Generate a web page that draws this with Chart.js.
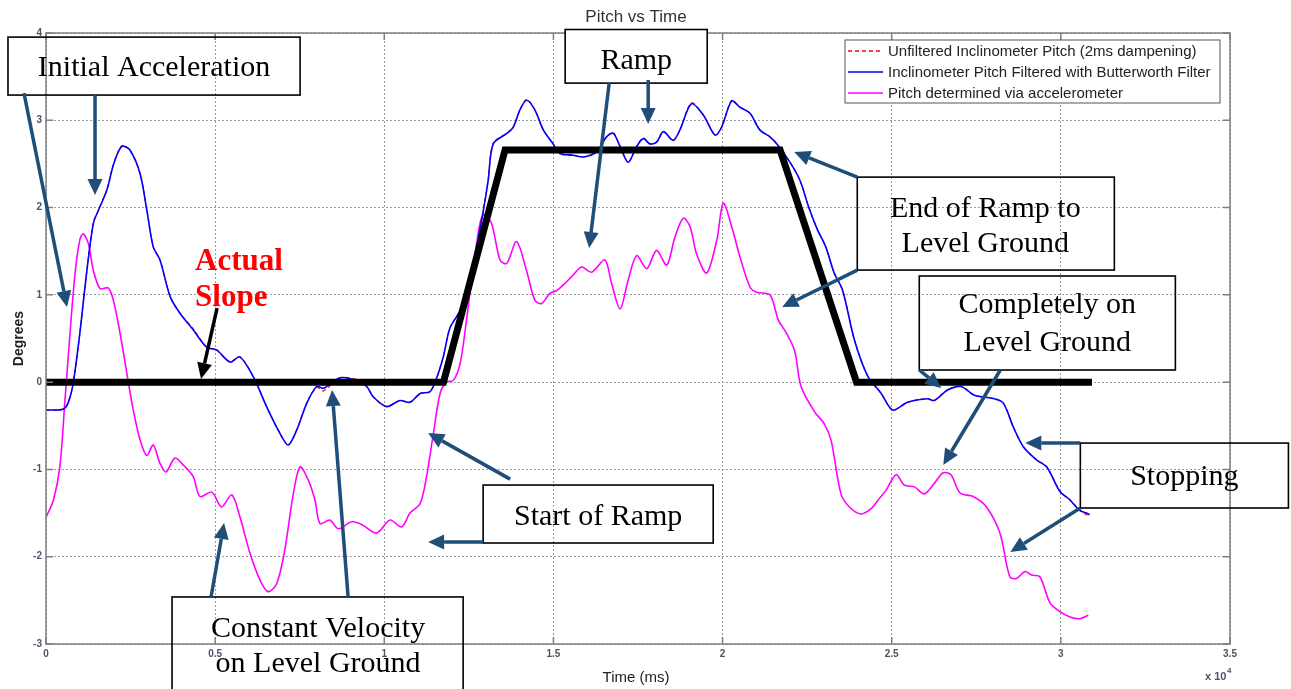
<!DOCTYPE html>
<html>
<head>
<meta charset="utf-8">
<script src="https://cdn.jsdelivr.net/npm/chart.js@4.4.1/dist/chart.umd.min.js"></script>
<style>
  body { margin: 0; background: #fff; }
  #wrap { width: 1291px; height: 689px; }
</style>
</head>
<body>
<div id="wrap"><canvas id="grafico_pitch" width="1291" height="689"></canvas></div>
<script>
// time in ms, pitch in degrees
const seriesNames = [
  'Unfiltered Inclinometer Pitch (2ms dampening)',
  'Inclinometer Pitch Filtered with Butterworth Filter',
  'Pitch determined via accelerometer'
];

const filteredTime = [0, 500, 650, 800, 1000, 1200, 1400, 1550, 1800, 2000, 2240, 2480, 2780, 2980, 3170, 3370, 3670, 3960, 4350, 4750,
  5040, 5440, 5730, 6130, 6520, 6920, 7160, 7410, 7710, 8000, 8200, 8690, 9180, 9480, 9680, 10070, 10460, 10760, 11060, 11350,
  11550, 11750, 11940, 12240, 12530, 12730, 12930, 13070, 13220, 13620, 13810, 14010, 14210, 14450, 14700, 14990, 15190, 15580, 15900, 16280,
  16570, 16770, 16970, 17210, 17460, 17660, 17850, 18050, 18250, 18540, 18740, 19080, 19430, 19780, 19970, 20270, 20510, 20810, 21100, 21400,
  21600, 21990, 22290, 22550, 22800, 23050, 23300, 23550, 23900, 24290, 24690, 25030, 25470, 26060, 26260, 26650, 27050, 27440, 28030, 28300,
  28590, 28890, 29280, 29580, 29970, 30270, 30560, 30760, 30850];
const filteredDeg = [-0.32, -0.31, -0.24, -0.02, 0.56, 1.25, 1.82, 1.97, 2.20, 2.50, 2.70, 2.66, 2.39, 1.97, 1.55, 1.40, 0.98, 0.79, 0.60, 0.40,
  0.37, 0.23, 0.29, 0.06, -0.28, -0.59, -0.72, -0.55, -0.24, -0.05, -0.07, 0.05, 0.02, -0.05, -0.17, -0.28, -0.21, -0.23, -0.13, -0.11,
  0.05, 0.30, 0.62, 0.82, 1.17, 1.55, 1.97, 2.31, 2.73, 2.85, 2.92, 3.12, 3.23, 3.12, 2.89, 2.73, 2.62, 2.60, 2.58, 2.64,
  2.81, 2.85, 2.70, 2.52, 2.70, 2.79, 2.73, 2.75, 2.87, 2.77, 2.89, 3.19, 3.06, 2.83, 2.92, 3.22, 3.15, 3.08, 2.89, 2.81,
  2.73, 2.52, 2.31, 2.00, 1.75, 1.55, 1.25, 1.05, 0.48, 0.07, -0.13, -0.32, -0.23, -0.19, -0.21, -0.09, -0.05, -0.15, -0.19, -0.24,
  -0.51, -0.74, -0.89, -0.97, -1.25, -1.35, -1.47, -1.50, -1.52];

const unfilteredTime = filteredTime;
const unfilteredDeg = [-0.32, -0.31, -0.24, -0.02, 0.56, 1.25, 1.83, 1.97, 2.21, 2.50, 2.71, 2.66, 2.39, 1.98, 1.55, 1.40, 0.98, 0.79, 0.61, 0.40,
  0.37, 0.23, 0.29, 0.06, -0.28, -0.59, -0.72, -0.55, -0.24, -0.06, -0.10, 0.05, 0.03, -0.05, -0.17, -0.28, -0.21, -0.23, -0.13, -0.11,
  0.05, 0.30, 0.62, 0.82, 1.17, 1.55, 1.97, 2.31, 2.74, 2.85, 2.92, 3.12, 3.24, 3.12, 2.89, 2.73, 2.62, 2.60, 2.58, 2.64,
  2.81, 2.86, 2.70, 2.52, 2.70, 2.80, 2.73, 2.75, 2.87, 2.77, 2.89, 3.20, 3.06, 2.83, 2.92, 3.23, 3.15, 3.08, 2.89, 2.81,
  2.73, 2.52, 2.31, 2.00, 1.75, 1.55, 1.25, 1.05, 0.48, 0.07, -0.13, -0.32, -0.23, -0.19, -0.21, -0.09, -0.05, -0.15, -0.19, -0.24,
  -0.51, -0.74, -0.89, -0.97, -1.25, -1.35, -1.47, -1.52, -1.54];

const accelTime = [0, 220, 410, 560, 710, 860, 1000, 1100, 1250, 1400, 1600, 1840, 1990, 2190, 2390, 2580, 2780, 2980, 3170, 3370,
  3550, 3810, 4060, 4350, 4550, 4900, 5190, 5490, 5730, 6030, 6330, 6570, 6820, 7060, 7310, 7510, 7750, 7950, 8100, 8390,
  8640, 9040, 9330, 9770, 10170, 10510, 10760, 11060, 11250, 11450, 11650, 11840, 12040, 12240, 12430, 12630, 12830, 12950, 13170, 13420,
  13620, 13910, 14210, 14450, 14650, 14900, 15100, 15390, 15590, 15830, 16130, 16520, 16720, 16970, 17210, 17460, 17760, 18050, 18350, 18590,
  18840, 19040, 19230, 19530, 19830, 20020, 20270, 20510, 20810, 21010, 21400, 21650, 21890, 22130, 22320, 22720, 23010, 23210, 23500, 23750,
  24090, 24390, 24640, 24830, 25130, 25370, 25670, 25960, 26260, 26510, 26750, 27020, 27410, 27800, 28200, 28490, 28690, 28940, 29140, 29380,
  29680, 29970, 30270, 30560, 30810];
const accelDeg = [-1.55, -1.35, -0.97, -0.21, 0.56, 1.25, 1.63, 1.70, 1.59, 1.28, 1.07, 1.08, 0.94, 0.56, 0.10, -0.32, -0.66, -0.84, -0.72, -0.93,
  -1.03, -0.87, -0.95, -1.08, -1.31, -1.26, -1.43, -1.29, -1.54, -1.96, -2.27, -2.40, -2.31, -1.92, -1.28, -0.97, -1.12, -1.35, -1.62, -1.58,
  -1.68, -1.60, -1.63, -1.73, -1.58, -1.66, -1.50, -1.39, -1.08, -0.59, -0.13, 0.00, 0.02, 0.21, 0.71, 1.32, 1.82, 1.92, 1.82, 1.40,
  1.36, 1.61, 1.27, 0.94, 0.90, 1.02, 1.05, 1.15, 1.23, 1.32, 1.26, 1.40, 1.13, 0.84, 1.17, 1.45, 1.30, 1.51, 1.34, 1.66,
  1.88, 1.78, 1.47, 1.25, 1.63, 2.05, 1.78, 1.44, 1.09, 1.03, 1.00, 0.71, 0.56, 0.36, -0.05, -0.34, -0.48, -0.67, -1.28, -1.43,
  -1.51, -1.45, -1.33, -1.24, -1.06, -1.18, -1.20, -1.28, -1.16, -1.04, -1.06, -1.27, -1.31, -1.43, -1.73, -2.23, -2.25, -2.17, -2.21, -2.23,
  -2.53, -2.63, -2.69, -2.71, -2.67];

// hand-drawn "actual slope" profile
const slopeTime = [0, 11750, 13570, 21700, 23960, 30920];
const slopeDeg = [0, 0, 2.66, 2.66, 0, 0];

// callouts: box corners and text in (ms, degrees)
const notes = [
  { box: [-1124, 3.953, 7511, 3.289], lines: [['Initial Acceleration', 3194, 3.507]] },
  { box: [15347, 4.040, 19546, 3.426], lines: [['Ramp', 17447, 3.587]], fill: true },
  { box: [23982, 2.349, 31581, 1.284], lines: [['End of Ramp to', 27766, 1.891], ['Level Ground', 27766, 1.490]] },
  { box: [25815, 1.216, 33385, 0.139], lines: [['Completely on', 29600, 0.792], ['Level Ground', 29600, 0.357]] },
  { box: [30576, -0.698, 36727, -1.442], lines: [['Stopping', 33651, -1.179]] },
  { box: [12922, -1.179, 19723, -1.843], lines: [['Start of Ramp', 16323, -1.637]] },
  { box: [3726, -2.461, 12331, -3.644], lines: [['Constant Velocity', 8043, -2.920], ['on Level Ground', 8043, -3.321]] }
];
const arrows = [
  [-651, 3.312, 621, 0.861], [1449, 3.289, 1449, 2.144],
  [16648, 3.426, 16057, 1.536], [17801, 3.461, 17801, 2.957],
  [23982, 2.349, 22118, 2.636], [23982, 1.284, 21764, 0.860],
  [25815, 0.139, 26465, -0.068], [28210, 0.139, 26524, -0.949],
  [30576, -0.698, 28950, -0.698], [30576, -1.442, 28506, -1.946],
  [13720, -1.111, 11296, -0.583], [12922, -1.832, 11296, -1.832],
  [4879, -2.461, 5264, -1.614], [8930, -2.461, 8457, -0.091]
];
const slopeArrow = [5057, 0.849, 4583, 0.036];

const blue = '#0000ff', magenta = '#ff00ff', red = '#ff0000', arrowBlue = '#1f4e79';
const sans = '"Liberation Sans", Arial, sans-serif';
const serif = '"Liberation Serif", "Times New Roman", serif';

function pts(t, d) {
  return t.map(function(x, i) { return { x: x, y: d[i] }; });
}

function arrow(ctx, x1, y1, x2, y2, color) {
  const ang = Math.atan2(y2 - y1, x2 - x1);
  const len = 16, half = 7.5;
  const bx = x2 - len * Math.cos(ang), by = y2 - len * Math.sin(ang);
  ctx.strokeStyle = color;
  ctx.fillStyle = color;
  ctx.lineWidth = 3.5;
  ctx.beginPath();
  ctx.moveTo(x1, y1);
  ctx.lineTo(bx, by);
  ctx.stroke();
  ctx.beginPath();
  ctx.moveTo(x2, y2);
  ctx.lineTo(bx + half * Math.sin(ang), by - half * Math.cos(ang));
  ctx.lineTo(bx - half * Math.sin(ang), by + half * Math.cos(ang));
  ctx.closePath();
  ctx.fill();
}

const overlay = {
  id: 'overlay',
  afterDraw(chart) {
    const ctx = chart.ctx, a = chart.chartArea;
    const xs = chart.scales.x, ys = chart.scales.y;
    const px = v => xs.getPixelForValue(v), py = v => ys.getPixelForValue(v);
    ctx.save();

    // frame + inward ticks
    ctx.strokeStyle = '#7f7f7f';
    ctx.lineWidth = 1.5;
    ctx.strokeRect(a.left, a.top, a.right - a.left, a.bottom - a.top);
    ctx.beginPath();
    xs.ticks.forEach(t => {
      const x = px(t.value);
      ctx.moveTo(x, a.bottom); ctx.lineTo(x, a.bottom - 7);
      ctx.moveTo(x, a.top); ctx.lineTo(x, a.top + 7);
    });
    ys.ticks.forEach(t => {
      const y = py(t.value);
      ctx.moveTo(a.left, y); ctx.lineTo(a.left + 7, y);
      ctx.moveTo(a.right, y); ctx.lineTo(a.right - 7, y);
    });
    ctx.stroke();

    // title and axis titles
    const cx = (a.left + a.right) / 2;
    ctx.fillStyle = '#333';
    ctx.textAlign = 'center';
    ctx.textBaseline = 'middle';
    ctx.font = '17px ' + sans;
    ctx.fillText('Pitch vs Time', cx - 2, a.top - 16);
    ctx.font = '15px ' + sans;
    ctx.fillStyle = '#222';
    ctx.fillText('Time (ms)', cx - 2, a.bottom + 34);
    ctx.save();
    ctx.translate(19, (a.top + a.bottom) / 2);
    ctx.rotate(-Math.PI / 2);
    ctx.font = 'bold 14px ' + sans;
    ctx.fillText('Degrees', 0, 0);
    ctx.restore();
    ctx.textAlign = 'left';
    ctx.textBaseline = 'alphabetic';
    ctx.fillStyle = '#50506a';
    ctx.font = 'bold 11px ' + sans;
    ctx.fillText('x 10', a.right - 25, a.bottom + 36);
    ctx.font = 'bold 8px ' + sans;
    ctx.fillText('4', a.right - 3, a.bottom + 29);

    // legend
    const lw = 375, lh = 63;
    const lx = a.right - 10 - lw, ly = a.top + 7;
    ctx.fillStyle = '#fff';
    ctx.fillRect(lx, ly, lw, lh);
    ctx.strokeStyle = '#555';
    ctx.lineWidth = 1;
    ctx.strokeRect(lx, ly, lw, lh);
    ctx.font = '15px ' + sans;
    ctx.textBaseline = 'middle';
    chart.data.datasets.slice(0, 3).forEach((ds, i) => {
      const y = ly + 11 + i * 21;
      ctx.strokeStyle = ds.borderColor;
      ctx.lineWidth = 1.5;
      ctx.setLineDash(ds.borderDash || []);
      ctx.beginPath();
      ctx.moveTo(lx + 3, y);
      ctx.lineTo(lx + 38, y);
      ctx.stroke();
      ctx.setLineDash([]);
      ctx.fillStyle = '#222';
      ctx.fillText(ds.label, lx + 43, y + 1);
    });

    // callout boxes
    notes.forEach(n => {
      const x1 = px(n.box[0]), y1 = py(n.box[1]), x2 = px(n.box[2]), y2 = py(n.box[3]);
      if (n.fill) {
        ctx.fillStyle = '#fff';
        ctx.fillRect(x1, y1, x2 - x1, y2 - y1);
      }
      ctx.strokeStyle = '#000';
      ctx.lineWidth = 1.6;
      ctx.strokeRect(x1, y1, x2 - x1, y2 - y1);
      ctx.fillStyle = '#000';
      ctx.font = '30px ' + serif;
      ctx.textAlign = 'center';
      ctx.textBaseline = 'alphabetic';
      n.lines.forEach(l => ctx.fillText(l[0], px(l[1]), py(l[2])));
    });

    // red label
    ctx.fillStyle = '#ff0000';
    ctx.font = 'bold 31px ' + serif;
    ctx.textAlign = 'left';
    ctx.fillText('Actual', px(4406), py(1.284));
    ctx.fillText('Slope', px(4406), py(0.872));

    arrows.forEach(r => arrow(ctx, px(r[0]), py(r[1]), px(r[2]), py(r[3]), arrowBlue));
    arrow(ctx, px(slopeArrow[0]), py(slopeArrow[1]), px(slopeArrow[2]), py(slopeArrow[3]), '#000');

    ctx.restore();
  }
};

const ctx = document.getElementById('grafico_pitch').getContext('2d');

new Chart(ctx, {
  type: 'line',
  data: {
    datasets: [
      {
        label: seriesNames[0],
        data: pts(unfilteredTime, unfilteredDeg),
        borderColor: red,
        borderWidth: 1.2,
        borderDash: [4, 3],
        order: 2
      },
      {
        label: seriesNames[1],
        data: pts(filteredTime, filteredDeg),
        borderColor: blue,
        borderWidth: 1.6,
        order: 1
      },
      {
        label: seriesNames[2],
        data: pts(accelTime, accelDeg),
        borderColor: magenta,
        borderWidth: 1.6,
        order: 3
      },
      {
        label: 'Actual Slope',
        data: pts(slopeTime, slopeDeg),
        borderColor: '#000',
        borderWidth: 7,
        tension: 0,
        borderJoinStyle: 'miter',
        order: 0
      }
    ]
  },
  options: {
    responsive: false,
    animation: false,
    layout: { padding: { top: 33, right: 61, left: 0, bottom: 0 } },
    elements: {
      point: { radius: 0 },
      line: { tension: 0.3, fill: false }
    },
    scales: {
      x: {
        type: 'linear',
        min: 0,
        max: 35000,
        afterFit: s => { s.height = 45; },
        ticks: {
          stepSize: 5000,
          padding: 4,
          maxRotation: 0,
          color: '#50506a',
          font: { family: sans, size: 10, weight: 'bold' },
          callback: v => String(v / 10000)
        },
        grid: { color: '#9a9a9a', lineWidth: 1, drawTicks: false },
        border: { display: false, dash: [2, 2] }
      },
      y: {
        min: -3,
        max: 4,
        afterFit: s => { s.width = 46; },
        ticks: {
          stepSize: 1,
          padding: 4,
          color: '#50506a',
          font: { family: sans, size: 10, weight: 'bold' }
        },
        grid: { color: '#9a9a9a', lineWidth: 1, drawTicks: false },
        border: { display: false, dash: [2, 2] }
      }
    },
    plugins: {
      legend: { display: false },
      tooltip: { enabled: false }
    }
  },
  plugins: [overlay]
});
</script>
</body>
</html>
